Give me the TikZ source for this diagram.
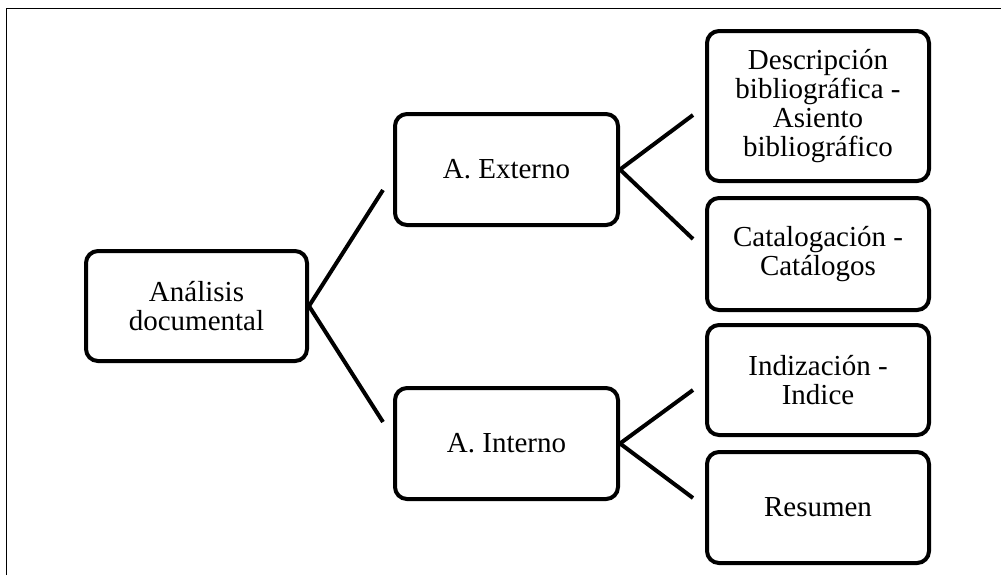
\documentclass[tikz,border=0pt]{standalone}
\usepackage{fontspec}
\setmainfont{Liberation Serif}
\usetikzlibrary{positioning}

\begin{document}
\begin{tikzpicture}[
    x=0.5pt, y=-0.5pt,
    box/.style={
        draw,
        line width=2pt,
        rounded corners=6pt,
        align=center,
        font=\fontsize{14.5}{14.5}\selectfont,
        inner sep=0pt,
        minimum width=111pt
    },
    rootbox/.style={box, minimum width=110.5pt, minimum height=55pt},
    midbox/.style={box, minimum width=111.5pt, minimum height=55.5pt},
    leafbox/.style={box, minimum height=56pt},
    link/.style={line width=2pt}
]

\useasboundingbox (0,0) rectangle (1001,575);
\draw[line width=0.75pt] (6.5,575) -- (6.5,8.5) -- (1001,8.5);

\node[rootbox] (doc) at (196.5,306) {Análisis\\documental};
\node[midbox] (ext) at (506.5,169.5) {A. Externo};
\node[midbox] (int) at (506.5,443.5) {A. Interno};
\node[leafbox, minimum height=75pt] (desc) at (818,106) {Descripción\\bibliográfica -\\Asiento\\bibliográfico};
\node[leafbox] (cat) at (818,254) {Catalogación -\\Catálogos};
\node[leafbox, minimum height=55pt] (ind) at (818,380) {Indización -\\Indice};
\node[leafbox, minimum height=55.5pt] (res) at (818,507.5) {Resumen};

\coordinate (docup) at (383,190);
\coordinate (docdown) at (383,422);
\coordinate (extup) at (693,115);
\coordinate (extdown) at (693,239);
\coordinate (intup) at (693,390);
\coordinate (intdown) at (693,498);

\draw[link] (doc.east) -- (docup);
\draw[link] (doc.east) -- (docdown);
\draw[link] (ext.east) -- (extup);
\draw[link] (ext.east) -- (extdown);
\draw[link] (int.east) -- (intup);
\draw[link] (int.east) -- (intdown);

\end{tikzpicture}
\end{document}
